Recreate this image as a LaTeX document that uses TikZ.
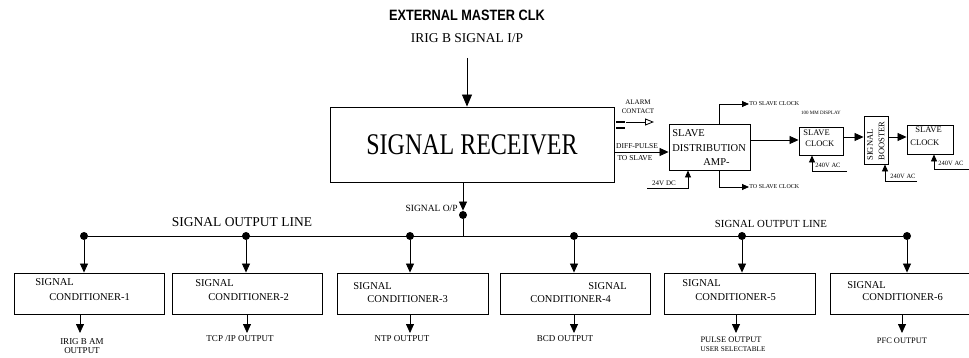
\documentclass[tikz,border=0pt]{standalone}
\usepackage{fontspec}
\setmainfont{Liberation Serif}
\newfontfamily\headfont{Liberation Sans}[FakeStretch=0.85]
\newfontfamily\titlefont{Liberation Serif}[FakeStretch=0.8]
\usetikzlibrary{arrows.meta}

\newcommand{\fs}[1]{\fontsize{#1}{1.15\dimexpr#1pt\relax}\selectfont}

\begin{document}
\begin{tikzpicture}[x=1pt, y=-1pt, line width=0.8pt]
    \tikzset{
        arr/.style={-{Triangle[width=8pt,length=9pt]}},
        bigarr/.style={-{Triangle[width=10pt,length=12pt]}},
        smallarr/.style={-{Triangle[width=6pt,length=7pt]}},
        openarr/.style={-{Triangle[open,width=7pt,length=9pt]}},
        dot/.style={circle, fill, inner sep=0pt, minimum size=8pt},
        blk/.style={draw, line width=0.9pt, inner sep=0pt},
        condbox/.style={blk, minimum width=150pt, minimum height=41pt},
        condtxt/.style={anchor=west, inner sep=0pt, font=\fs{10.5}},
        outtxt/.style={inner sep=0pt, font=\fs{9}},
        smalltxt/.style={inner sep=0pt, font=\fs{6.5}}
    }
    \useasboundingbox (0,0) rectangle (969,358);

    % master clock input
    \node[font=\headfont\bfseries\fs{15}] (ext) at (467,15) {EXTERNAL MASTER CLK};
    \node[font=\fs{13.5}] (irig) at (467,38) {IRIG B SIGNAL I/P};
    \node[blk, minimum width=284pt, minimum height=75pt, font=\titlefont\fs{30}] (rcv) at (472,144.5) {SIGNAL RECEIVER};
    \coordinate (in) at (467,58);
    \draw[bigarr] (in) -- (in |- rcv.north);

    % alarm contact
    \draw[line width=2.2pt] (616,122) -- (625,122);
    \draw[line width=2.2pt] (616,128) -- (625,128);
    \coordinate (alm) at (626,122);
    \draw[openarr] (alm) -- ++(28,0);
    \node[smalltxt, font=\fs{7}] (alarm) at (638,102) {ALARM};
    \node[smalltxt, font=\fs{7}] (contact) at (638,111) {CONTACT};

    % slave distribution amplifier
    \node[blk, minimum width=81pt, minimum height=46pt] (sda) at (709.5,147) {};
    \node[condtxt] at (672,133) {SLAVE};
    \node[condtxt] at (672,148) {DISTRIBUTION};
    \node[condtxt] at (703,162) {AMP-};
    \coordinate (dp) at (640,152);
    \draw[arr] (rcv.east |- dp) -- (sda.west |- dp);
    \node[smalltxt, font=\fs{7.5}] at (637,146) {DIFF-PULSE};
    \node[smalltxt, font=\fs{7.5}] at (635,158) {TO SLAVE};
    \node[smalltxt, anchor=west, font=\fs{6}] (tsc1) at (749,104) {TO SLAVE CLOCK};
    \node[smalltxt, anchor=west, font=\fs{6}] (tsc2) at (749,187) {TO SLAVE CLOCK};
    \draw[smallarr] ([xshift=9.5pt]sda.north) |- (tsc1.west);
    \draw[smallarr] ([xshift=9.5pt]sda.south) |- (tsc2.west);
    \node[smalltxt, font=\fs{7}] (dc) at (664,183) {24V DC};
    \coordinate (pdc) at (647,188);
    \draw[smallarr] (pdc) -| ([xshift=-21.5pt]sda.south);

    % slave clock with display
    \node[blk, minimum width=44pt, minimum height=28pt] (sc1) at (821,141) {};
    \node[condtxt, font=\fs{8.5}] at (803,133) {SLAVE};
    \node[condtxt, font=\fs{8.5}] at (805,144) {CLOCK};
    \node[smalltxt, font=\fs{5}] at (821,113) {100 MM DISPLAY};
    \draw[arr] ([yshift=7pt]sda.east) -- ([yshift=7pt]sda.east -| sc1.west);
    \coordinate (p1) at (847,171);
    \draw[smallarr] (p1) -| ([xshift=-9pt]sc1.south);
    \node[smalltxt] at (828,165) {240V AC};

    % signal booster, text reads upwards
    \node[blk, minimum width=24pt, minimum height=48pt] (bst) at (876,140) {};
    \node[inner sep=0pt, rotate=90, anchor=west, font=\fs{8.5}] at (870,161) {SIGNAL};
    \node[inner sep=0pt, rotate=90, anchor=west, font=\fs{8.5}] at (881.5,161) {BOOSTER};
    \draw[arr] ([yshift=4pt]sc1.east) -- ([yshift=4pt]sc1.east -| bst.west);
    \coordinate (p2) at (917,181);
    \draw[smallarr] (p2) -| ([xshift=9pt]bst.south);
    \node[smalltxt] at (903,176) {240V AC};

    % last slave clock
    \node[blk, minimum width=46pt, minimum height=29pt] (sc2) at (930,139.5) {};
    \node[condtxt, font=\fs{8.5}] at (915,130) {SLAVE};
    \node[condtxt, font=\fs{8.5}] at (910,143) {CLOCK};
    \draw[arr] ([yshift=3pt]bst.east) -- ([yshift=3pt]bst.east -| sc2.west);
    \coordinate (p3) at (969,169);
    \draw[smallarr] (p3) -| ([xshift=4pt]sc2.south);
    \node[smalltxt] at (951,163) {240V AC};

    % signal output line
    \node[dot] (op) at (463,215) {};
    \draw[arr] (rcv.south -| op) -- (op.north);
    \node[anchor=east, inner sep=0pt, font=\fs{9.5}] at (458,208) {SIGNAL O/P};
    \node[dot] (d1) at (84,236) {};
    \node[dot] (d2) at (246,236) {};
    \node[dot] (d3) at (410,236) {};
    \node[dot] (d4) at (574,236) {};
    \node[dot] (d5) at (742,236) {};
    \node[dot] (d6) at (907,236) {};
    \draw (d1) -- (d6);
    \draw (op) -- (op |- d1);
    \node[font=\fs{13.5}, inner sep=0pt] at (242,222) {SIGNAL OUTPUT LINE};
    \node[font=\fs{10.8}, inner sep=0pt] at (771,224) {SIGNAL OUTPUT LINE};

    % signal conditioners
    \node[condbox] (c1) at (89,293.5) {};
    \node[condbox] (c2) at (247,293.5) {};
    \node[condbox, minimum width=151pt] (c3) at (412.5,293.5) {};
    \node[condbox] (c4) at (575,293.5) {};
    \node[condbox, minimum width=151pt] (c5) at (739.5,293.5) {};
    \node[condbox, minimum width=140pt] (c6) at (900,293.5) {};
    \draw[arr] (d1) -- (d1 |- c1.north);
    \draw[arr] (d2) -- (d2 |- c2.north);
    \draw[arr] (d3) -- (d3 |- c3.north);
    \draw[arr] (d4) -- (d4 |- c4.north);
    \draw[arr] (d5) -- (d5 |- c5.north);
    \draw[arr] (d6) -- (d6 |- c6.north);
    \node[condtxt] at (35,282) {SIGNAL};
    \node[condtxt] at (49,297) {CONDITIONER-1};
    \node[condtxt] at (195,283) {SIGNAL};
    \node[condtxt] at (208,297) {CONDITIONER-2};
    \node[condtxt] at (353,286) {SIGNAL};
    \node[condtxt] at (367,299) {CONDITIONER-3};
    \node[condtxt] at (588,286) {SIGNAL};
    \node[condtxt] at (530,299) {CONDITIONER-4};
    \node[condtxt] at (682,283) {SIGNAL};
    \node[condtxt] at (695,297) {CONDITIONER-5};
    \node[condtxt] at (847,285) {SIGNAL};
    \node[condtxt] at (862,297) {CONDITIONER-6};

    % outputs
    \coordinate (o1) at (80,333);
    \coordinate (o2) at (247,333);
    \coordinate (o3) at (410,333);
    \coordinate (o4) at (574,333);
    \coordinate (o5) at (736,333);
    \coordinate (o6) at (902,333);
    \draw[arr] (o1 |- c1.south) -- (o1);
    \draw[arr] (o2 |- c2.south) -- (o2);
    \draw[arr] (o3 |- c3.south) -- (o3);
    \draw[arr] (o4 |- c4.south) -- (o4);
    \draw[arr] (o5 |- c5.south) -- (o5);
    \draw[arr] (o6 |- c6.south) -- (o6);
    \node[outtxt] at (82,342) {IRIG B AM};
    \node[outtxt] at (82,351) {OUTPUT};
    \node[outtxt] at (240,339) {TCP /IP OUTPUT};
    \node[outtxt] at (402,339) {NTP OUTPUT};
    \node[outtxt] at (565,339) {BCD OUTPUT};
    \node[outtxt, font=\fs{8.4}] at (731,340) {PULSE OUTPUT};
    \node[outtxt, font=\fs{7.2}] at (733,349) {USER SELECTABLE};
    \node[outtxt, font=\fs{8.4}] at (902,341) {PFC OUTPUT};
\end{tikzpicture}
\end{document}
